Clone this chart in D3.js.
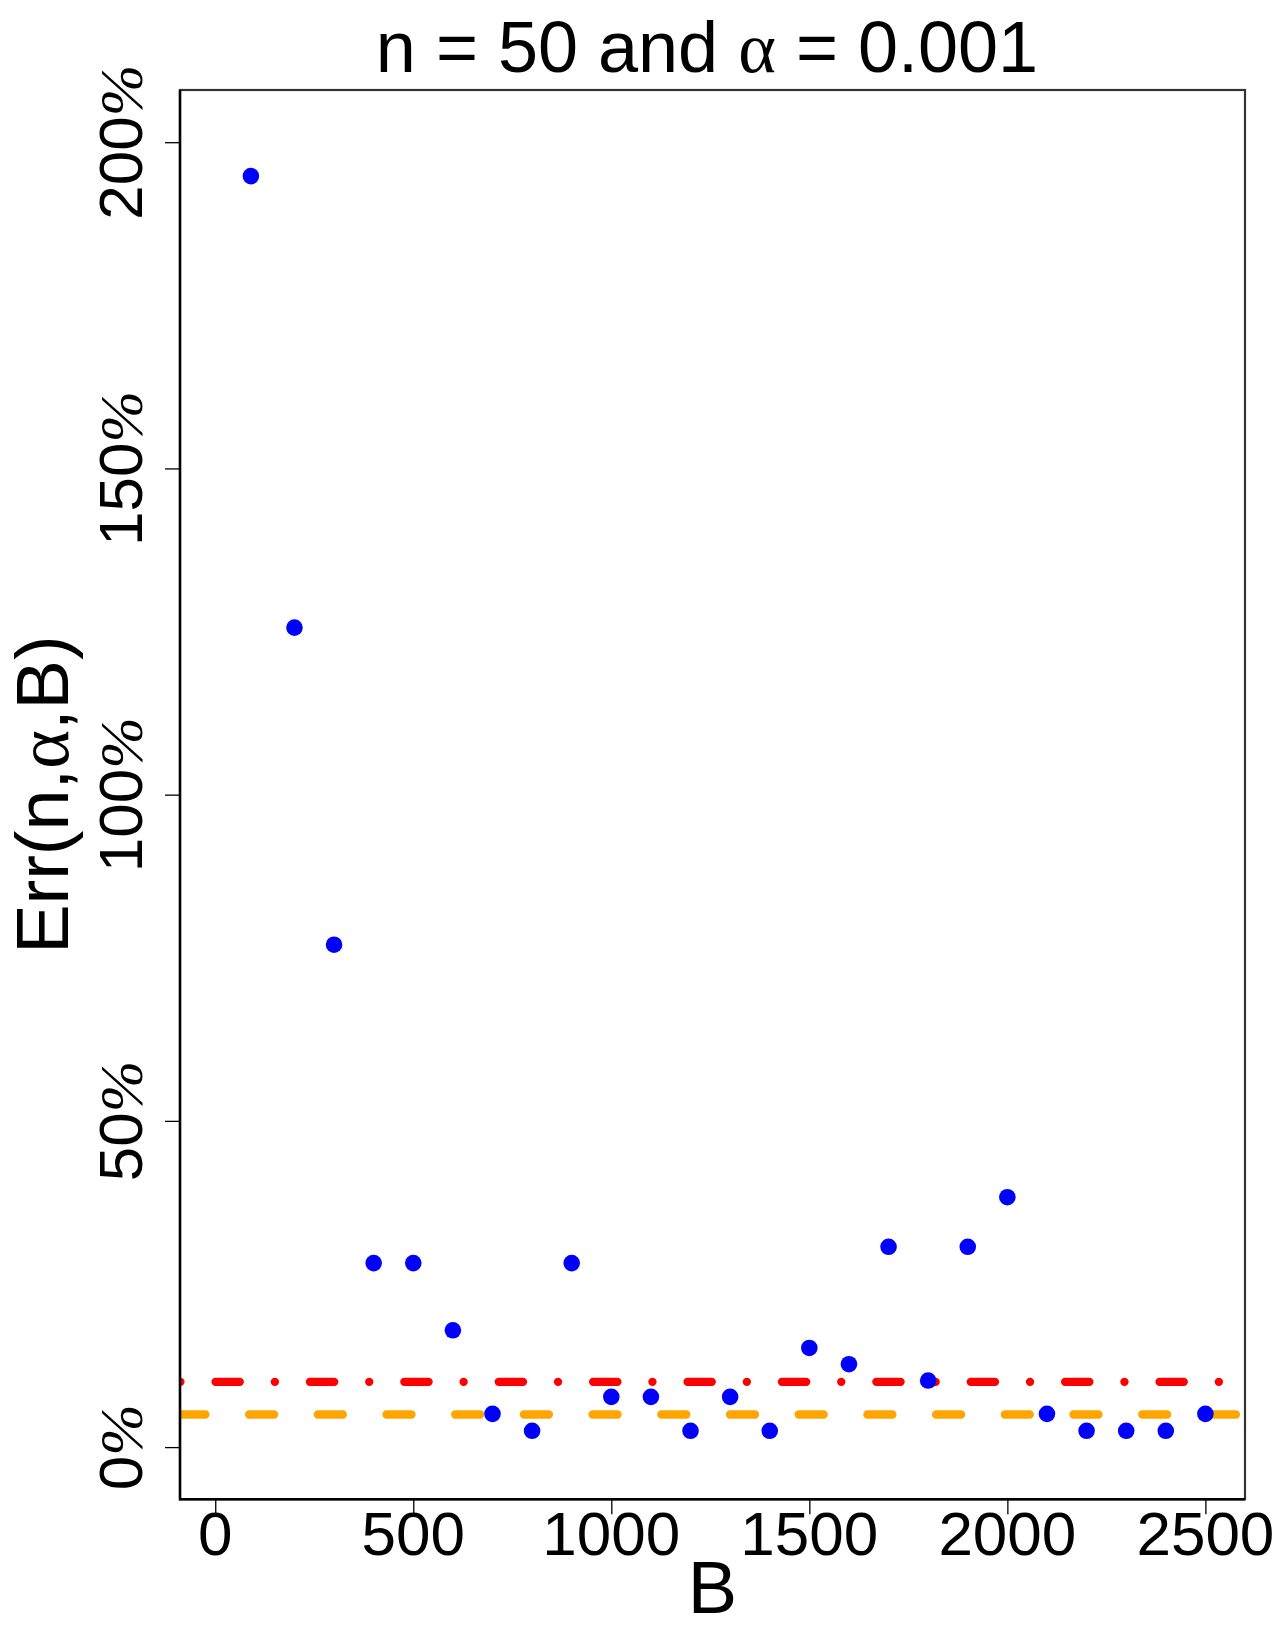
<html>
<script src='https://d3js.org/d3.v7.min.js'></script>
<style>
    body { margin: 0; background: white; }
    text { font-family: 'Liberation Sans', Arial, sans-serif; fill: black; }
</style>

<body>
    <div id="graph-container"></div>
    <script>
        // B values (number of bootstrap samples)
        var bValues = [90, 200, 300, 400, 500, 600, 700, 800, 900, 1000, 1100, 1200, 1300,
                       1400, 1500, 1600, 1700, 1800, 1900, 2000, 2100, 2200, 2300, 2400, 2500];
        // Err(n, alpha, B) in percent
        var errValues = [194.8, 125.6, 77.0, 28.2, 28.2, 17.9, 5.1, 2.5, 28.2, 7.7, 7.7, 2.5, 7.7,
                         2.5, 15.2, 12.7, 30.7, 10.2, 30.7, 38.3, 5.1, 2.5, 2.5, 2.5, 5.1];
        // reference lines (percent)
        var refLines = [
            { value: 10, color: "red", dash: "0.1,35,24.3,35" },
            { value: 5, color: "orange", dash: "25,43.7" }
        ];
        var xTicks = [0, 500, 1000, 1500, 2000, 2500];
        var yTicks = [0, 50, 100, 150, 200];

        const width = 1275, height = 1650;
        const plotLeft = 180, plotRight = 1245, plotTop = 90, plotBottom = 1499.3;

        const svg = d3.select("#graph-container").append("svg")
            .attr("width", width)
            .attr("height", height);

        const xScale = d3.scaleLinear()
            .domain([-89, 2600])
            .range([plotLeft, plotRight]);
        const yScale = d3.scaleLinear()
            .domain([-8, 208])
            .range([plotBottom, plotTop]);

        // clip to the plot region
        svg.append("clipPath").attr("id", "plot-clip")
            .append("rect")
            .attr("x", plotLeft).attr("y", plotTop)
            .attr("width", plotRight - plotLeft).attr("height", plotBottom - plotTop);

        // horizontal reference lines
        svg.append("g").attr("clip-path", "url(#plot-clip)")
            .selectAll("line")
            .data(refLines)
            .enter()
            .append("line")
            .attr("x1", xScale(-89) + 0.4)
            .attr("x2", xScale(2600))
            .attr("y1", d => yScale(d.value))
            .attr("y2", d => yScale(d.value))
            .attr("stroke", d => d.color)
            .attr("stroke-width", 8.3)
            .attr("stroke-linecap", "round")
            .attr("stroke-dasharray", d => d.dash);

        // points
        svg.append("g")
            .selectAll("circle")
            .data(bValues.map((b, i) => ({ b: b, err: errValues[i] })))
            .enter()
            .append("circle")
            .attr("cx", d => xScale(d.b))
            .attr("cy", d => yScale(d.err))
            .attr("r", 8.3)
            .attr("fill", "blue");

        // box
        svg.append("rect")
            .attr("x", plotLeft).attr("y", plotTop)
            .attr("width", plotRight - plotLeft).attr("height", plotBottom - plotTop)
            .attr("fill", "none")
            .attr("stroke", "#333")
            .attr("stroke-width", 2.2);
        svg.append("path")
            .attr("d", `M${plotLeft},${plotTop}V${plotBottom}H${plotRight}`)
            .attr("fill", "none")
            .attr("stroke", "black")
            .attr("stroke-width", 2.5);

        // x axis ticks
        const xAxis = svg.append("g")
            .attr("transform", `translate(0,${plotBottom})`)
            .call(d3.axisBottom(xScale).tickValues(xTicks).tickSize(15).tickFormat(""));
        xAxis.select(".domain").remove();
        xAxis.selectAll("line").attr("stroke", "black").attr("stroke-width", 1.3);

        svg.append("g").selectAll("text")
            .data(xTicks)
            .enter()
            .append("text")
            .attr("x", d => xScale(d))
            .attr("y", 1555)
            .style("font-size", "62px")
            .style("text-anchor", "middle")
            .text(d => d);

        // y axis ticks
        const yAxis = svg.append("g")
            .attr("transform", `translate(${plotLeft},0)`)
            .call(d3.axisLeft(yScale).tickValues(yTicks).tickSize(15).tickFormat(""));
        yAxis.select(".domain").remove();
        yAxis.selectAll("line").attr("stroke", "black").attr("stroke-width", 1.3);

        const yLabels = svg.append("g").selectAll("text")
            .data(yTicks)
            .enter()
            .append("text")
            .attr("transform", d => `translate(142,${yScale(d)}) rotate(-90)`)
            .style("font-size", "62px")
            .style("text-anchor", "middle");
        yLabels.append("tspan").text(d => d);
        yLabels.append("tspan")
            .style("font-family", "'Liberation Serif', serif")
            .style("font-style", "italic")
            .text("%");

        // axis titles
        svg.append("text")
            .attr("x", (plotLeft + plotRight) / 2)
            .attr("y", 1613)
            .style("font-size", "74px")
            .style("text-anchor", "middle")
            .text("B");

        const yTitle = svg.append("text")
            .attr("transform", `translate(68,${(plotTop + plotBottom) / 2}) rotate(-90)`)
            .style("font-size", "74px")
            .style("text-anchor", "middle");
        yTitle.append("tspan").text("Err(n,");
        yTitle.append("tspan").style("font-family", "'Liberation Serif', serif").text("α");
        yTitle.append("tspan").text(",B)");

        // title
        const title = svg.append("text")
            .attr("x", 707)
            .attr("y", 71.7)
            .style("font-size", "72px")
            .style("text-anchor", "middle");
        title.append("tspan").text("n = 50 and ");
        title.append("tspan").style("font-family", "'Liberation Serif', serif").text("α");
        title.append("tspan").text(" = 0.001");
    </script>
</body>

</html>
